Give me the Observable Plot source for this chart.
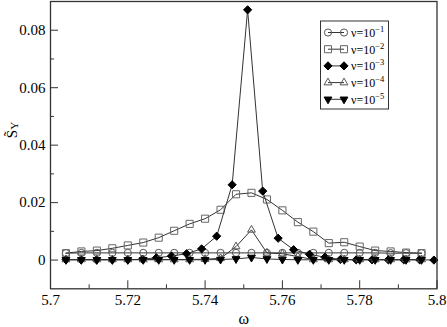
<!DOCTYPE html>
<html>
<head>
<meta charset="utf-8">
<script src="https://cdn.jsdelivr.net/npm/d3@7"></script>
<script src="https://cdn.jsdelivr.net/npm/@observablehq/plot@0.6"></script>
<style>
  html, body { margin: 0; padding: 0; background: #fff; }
  #chart { width: 447px; height: 327px; }
  #chart svg text, #chart svg tspan { font-family: "Liberation Serif", "Times New Roman", serif !important; }
</style>
</head>
<body>
<div id="chart"></div>
<script>
// ---- data ----
const omegaGrid = [5.704, 5.708, 5.712, 5.716, 5.720, 5.724, 5.728, 5.732, 5.736, 5.740, 5.744, 5.748,
                   5.752, 5.756, 5.760, 5.764, 5.768, 5.772, 5.776, 5.780, 5.784, 5.788, 5.792, 5.796];
const omegaDiamond = [5.7040, 5.7079, 5.7119, 5.7160, 5.7200, 5.7238, 5.7274, 5.7313, 5.7352, 5.7391,
                      5.7430, 5.7470, 5.7510, 5.7549, 5.7589, 5.7629, 5.7670, 5.7710, 5.7750, 5.7791,
                      5.7832, 5.7874, 5.7914, 5.7955, 5.7992];
const sNu1 = [0.0024, 0.0025, 0.0025, 0.0025, 0.0025, 0.0025, 0.0025, 0.0025, 0.0025, 0.0025, 0.0025, 0.0025,
              0.0025, 0.0025, 0.0025, 0.0025, 0.0025, 0.0025, 0.0025, 0.0025, 0.0025, 0.0024, 0.0024, 0.0024];
const sNu2 = [0.0024, 0.0030, 0.0033, 0.0041, 0.0051, 0.0061, 0.0078, 0.0102, 0.0126, 0.0144, 0.0175, 0.0229,
              0.0234, 0.0211, 0.0173, 0.0132, 0.0099, 0.0059, 0.0062, 0.0047, 0.0033, 0.0030, 0.0026, 0.0024];
const sNu3 = [0.0001, 0.0001, 0.0001, 0.0001, 0.0001, 0.0003, 0.0008, 0.0014, 0.0022, 0.0039, 0.0083, 0.0262,
              0.0871, 0.0240, 0.0076, 0.0036, 0.0020, 0.0010, 0.0002, 0.0001, 0.0001, 0.0001, 0.0001, 0.0001, 0.0000];
const sNu4 = [0.0002, 0.0002, 0.0002, 0.0002, 0.0002, 0.0002, 0.0002, 0.0002, 0.0002, 0.0003, 0.0006, 0.0047,
              0.0105, 0.0025, 0.0022, 0.0012, 0.0002, 0.0002, 0.0002, 0.0002, 0.0002, 0.0002, 0.0002, 0.0002];
const sNu5 = [0.0001, 0.0001, 0.0001, 0.0001, 0.0001, 0.0001, 0.0001, 0.0001, 0.0001, 0.0001, 0.0002, 0.0004,
              0.0009, 0.0004, 0.0002, 0.0001, 0.0001, 0.0001, 0.0001, 0.0001, 0.0001, 0.0001, 0.0001, 0.0001];
const legendExponents = ["\u22121", "\u22122", "\u22123", "\u22124", "\u22125"];
const xMajorTicks = [5.7, 5.72, 5.74, 5.76, 5.78, 5.8];
const xTickLabels = ["5.7", "5.72", "5.74", "5.76", "5.78", "5.8"];
const xMinorTicks = [5.71, 5.73, 5.75, 5.77, 5.79];
const yMajorTicks = [0, 0.02, 0.04, 0.06, 0.08];
const yTickLabels = ["0", "0.02", "0.04", "0.06", "0.08"];
const yMinorTicks = [0.01, 0.03, 0.05, 0.07];

// ---- build tables ----
const mk = (xs, ys) => xs.map((x, i) => ({x, y: ys[i]}));
const series = [
  {data: mk(omegaGrid, sNu1), symbol: "circle", r: 3.6, fill: "none", stroke: "#555", rotate: 0},
  {data: mk(omegaGrid, sNu2), symbol: "square", r: 4.0, fill: "none", stroke: "#666", rotate: 0},
  {data: mk(omegaDiamond, sNu3), symbol: "diamond2", r: 3.7, fill: "#000", stroke: "#000", rotate: 0},
  {data: mk(omegaGrid, sNu4), symbol: "triangle", r: 2.9, fill: "none", stroke: "#555", rotate: 0},
  {data: mk(omegaGrid, sNu5), symbol: "triangle", r: 2.9, fill: "#000", stroke: "#000", rotate: 180}
];

const FONT = "Liberation Serif, Times New Roman, serif";
const marks = [];
for (const s of series) {
  marks.push(Plot.line(s.data, {x: "x", y: "y", stroke: "#333", strokeWidth: 1}));
  marks.push(Plot.dot(s.data, {x: "x", y: "y", symbol: () => s.symbol, r: s.r, fill: s.fill,
                               stroke: s.stroke, strokeWidth: 1, rotate: s.rotate}));
}

const chart = Plot.plot({
  width: 447, height: 327,
  marginLeft: 50, marginRight: 10.5, marginTop: 1, marginBottom: 38.7,
  style: {fontFamily: FONT, background: "#fff", color: "#000"},
  x: {domain: [5.7, 5.8]},
  y: {domain: [-0.01, 0.09]},
  symbol: {type: "identity"},
  marks: [
    ...marks,
    Plot.axisX({ticks: xMajorTicks, tickSize: -8, tickPadding: 14, fontSize: 15, stroke: "#333",
                tickFormat: (d, i) => xTickLabels[i], label: null}),
    Plot.axisX({ticks: xMinorTicks, tickSize: -4, tickFormat: () => "", label: null, stroke: "#333"}),
    Plot.axisY({ticks: yMajorTicks, tickSize: -8, tickPadding: 13, fontSize: 15, stroke: "#333",
                tickFormat: (d, i) => yTickLabels[i], label: null}),
    Plot.axisY({ticks: yMinorTicks, tickSize: -4, tickFormat: () => "", label: null, stroke: "#333"}),
    Plot.frame({stroke: "#333", strokeWidth: 1.3}),
    Plot.text(["\u03c9"], {frameAnchor: "bottom", dy: 35, fontSize: 16, fill: "#000"}),
    Plot.text(["S\u0303"], {frameAnchor: "left", dx: -38, dy: -7, rotate: -90, fontSize: 15, fill: "#000"}),
    Plot.text(["Y"], {frameAnchor: "left", dx: -36, dy: -15.5, rotate: -90, fontSize: 11, fill: "#000"})
  ]
});
document.getElementById("chart").appendChild(chart);

// ---- legend (drawn into the same svg) ----
const svg = d3.select(chart);
const lg = svg.append("g").attr("font-family", FONT).attr("text-anchor", "start");
const box = {x: 320.5, y: 21, w: 68, h: 88};
lg.append("rect").attr("x", box.x).attr("y", box.y).attr("width", box.w).attr("height", box.h)
  .attr("fill", "#fff").attr("stroke", "#333").attr("stroke-width", 1);
const symMap = {circle: d3.symbolCircle, square: d3.symbolSquare, diamond2: d3.symbolDiamond2, triangle: d3.symbolTriangle};
series.forEach((s, i) => {
  const yy = 32.5 + i * 16.7;
  lg.append("line").attr("x1", 328).attr("x2", 344).attr("y1", yy).attr("y2", yy)
    .attr("stroke", "#333").attr("stroke-width", 1);
  const path = d3.symbol(symMap[s.symbol], Math.PI * s.r * s.r)();
  for (const cx of [328, 344]) {
    lg.append("path").attr("d", path)
      .attr("transform", `translate(${cx},${yy}) rotate(${s.rotate})`)
      .attr("fill", s.fill).attr("stroke", s.stroke).attr("stroke-width", 1);
  }
  const t = lg.append("text").attr("x", 351).attr("y", yy + 4.5).attr("font-size", 12)
    .attr("fill", "#000").attr("text-anchor", "start");
  t.append("tspan").text("\u03bd=10");
  t.append("tspan").attr("dy", -5).attr("font-size", 8.5).text(legendExponents[i]);
});
</script>
</body>
</html>
